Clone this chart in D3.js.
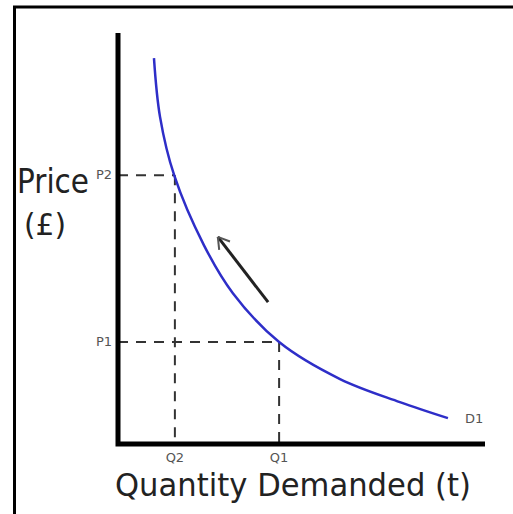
<!DOCTYPE html>
<html>
<head>
<meta charset="utf-8">
<script src="https://cdn.jsdelivr.net/npm/d3@7"></script>
<style>
  html, body { margin: 0; padding: 0; background: #fff; }
  svg { display: block; }
</style>
</head>
<body>
<div id="chart"></div>
<script>
// Demand curve D1 (quantity, price in arbitrary units 0-100)
const demandQ = [9.8, 11.45, 15.3, 23.4, 31.3, 43.9, 60.5, 76.8, 89.9];
const demandP = [93.9, 79.6, 65.4, 48.4, 36.7, 24.8, 15.8, 10.2, 6.3];

// Marked price / quantity pairs
const pointLabels = ['2', '1'];
const pointQ = [15.5, 43.9];
const pointP = [65.4, 24.8];

// Arrow along the curve (from, to)
const arrowQ = [40.9, 27.2];
const arrowP = [34.5, 50.4];

const width = 513;
const height = 514;

const svg = d3.select('#chart').append('svg')
  .attr('width', width)
  .attr('height', height);

// Scales: origin at the axis corner.
const x = d3.scaleLinear().domain([0, 100]).range([118, 485]);
const y = d3.scaleLinear().domain([0, 100]).range([444, 33]);

// frame (top and left edge only)
svg.append('path')
  .attr('d', `M14.5,514 V7 H513`)
  .attr('fill', 'none')
  .attr('stroke', '#000')
  .attr('stroke-width', 3);

// dashed guide lines
const guides = svg.append('g')
  .attr('stroke', '#333')
  .attr('stroke-width', 2)
  .attr('stroke-dasharray', '10,8')
  .attr('fill', 'none');

pointQ.forEach((q, i) => {
  guides.append('line')
    .attr('x1', x(0)).attr('x2', x(q))
    .attr('y1', y(pointP[i])).attr('y2', y(pointP[i]));
  guides.append('line')
    .attr('x1', x(q)).attr('x2', x(q))
    .attr('y1', y(pointP[i])).attr('y2', y(0));
});

// axes
svg.append('path')
  .attr('d', `M${x(0)},${y(100)} V${y(0)} H${x(100)}`)
  .attr('fill', 'none')
  .attr('stroke', '#000')
  .attr('stroke-width', 5)
  .attr('stroke-linejoin', 'miter');

// demand curve
const curveData = demandQ.map((q, i) => ({q, p: demandP[i]}));
const line = d3.line()
  .x((d) => x(d.q))
  .y((d) => y(d.p))
  .curve(d3.curveCatmullRom.alpha(0.5));

svg.append('path')
  .datum(curveData)
  .attr('d', line)
  .attr('fill', 'none')
  .attr('stroke', '#2e2ec8')
  .attr('stroke-width', 2.5);

// arrow
const ax0 = x(arrowQ[0]), ay0 = y(arrowP[0]);
const ax1 = x(arrowQ[1]), ay1 = y(arrowP[1]);
svg.append('line')
  .attr('x1', ax0).attr('y1', ay0)
  .attr('x2', ax1).attr('y2', ay1)
  .attr('stroke', '#222')
  .attr('stroke-width', 3);
const ang = Math.atan2(ay1 - ay0, ax1 - ax0);
const head = 13;
[-0.55, 0.55].forEach((da) => {
  svg.append('line')
    .attr('x1', ax1).attr('y1', ay1)
    .attr('x2', ax1 - head * Math.cos(ang + da))
    .attr('y2', ay1 - head * Math.sin(ang + da))
    .attr('stroke', '#555')
    .attr('stroke-width', 2);
});

// small labels
const small = svg.append('g')
  .attr('font-family', 'DejaVu Sans, sans-serif')
  .attr('font-size', 13)
  .attr('fill', '#555');

pointLabels.forEach((lab, i) => {
  small.append('text')
    .attr('x', x(0) - 6)
    .attr('y', y(pointP[i]) + 4)
    .attr('text-anchor', 'end')
    .text('P' + lab);
  small.append('text')
    .attr('x', x(pointQ[i]))
    .attr('y', y(0) + 18)
    .attr('text-anchor', 'middle')
    .text('Q' + lab);
});

const last = curveData[curveData.length - 1];
small.append('text')
  .attr('x', x(last.q) + 17)
  .attr('y', y(last.p) + 5)
  .text('D1');

// axis titles
const big = svg.append('g')
  .attr('font-family', 'DejaVu Sans, sans-serif')
  .attr('fill', '#222');

big.append('text')
  .attr('x', 17).attr('y', 193)
  .attr('font-size', 33)
  .attr('textLength', 72)
  .attr('lengthAdjust', 'spacingAndGlyphs')
  .text('Price');

big.append('text')
  .attr('x', 24).attr('y', 235)
  .attr('font-size', 31)
  .attr('textLength', 42)
  .attr('lengthAdjust', 'spacingAndGlyphs')
  .text('(£)');

big.append('text')
  .attr('x', 115).attr('y', 496)
  .attr('font-size', 32)
  .attr('textLength', 356)
  .attr('lengthAdjust', 'spacingAndGlyphs')
  .text('Quantity Demanded (t)');
</script>
</body>
</html>
